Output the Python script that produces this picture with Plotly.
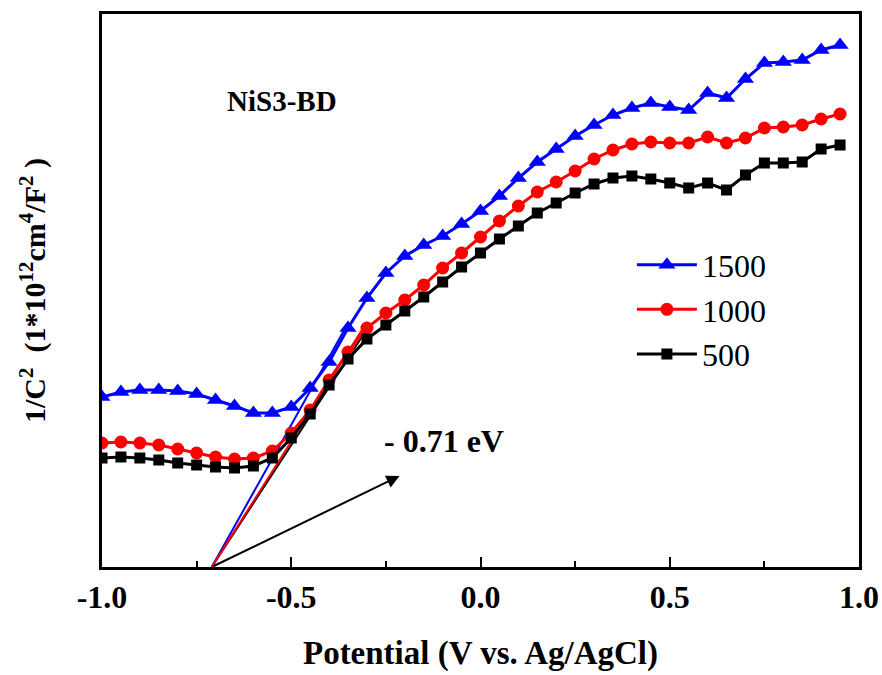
import plotly.graph_objects as go

# ---- data (arbitrary 1/C^2 units) ----
potential = [round(-1.0 + 0.05 * i, 2) for i in range(40)]

px_1500 = [397, 392, 390, 390, 391, 394, 400, 406, 413, 413,
           407, 388, 362, 328, 298, 273, 256, 245, 236, 224,
           211, 196, 178, 162, 149, 136, 125, 115, 108, 103,
           107, 110, 93, 98, 79, 63, 62, 60, 50, 45]
px_1000 = [443, 442, 443, 445, 449, 453, 457, 459, 458, 451,
           433, 410, 380, 352, 328, 313, 300, 285, 268, 253,
           237, 221, 206, 192, 182, 171, 159, 150, 144, 142,
           143, 143, 137, 143, 138, 128, 127, 125, 119, 114]
px_500 = [458, 457, 458, 460, 463, 465, 467, 468, 466, 458,
          438, 414, 385, 359, 339, 325, 311, 297, 282, 267,
          253, 239, 226, 213, 203, 193, 184, 178, 176, 179,
          183, 188, 183, 190, 175, 163, 163, 162, 149, 145]

# values, converted into arbitrary units
c_1500 = [(567 - v) / 100 for v in px_1500]
c_1000 = [(567 - v) / 100 for v in px_1000]
c_500 = [(567 - v) / 100 for v in px_500]

# linear (Mott-Schottky) fits: intercept and end point
fb_potential = -0.71
fit_end_x = {"1500": -0.36, "1000": -0.31, "500": -0.305}
fit_end_y = {"1500": 2.37, "1000": 2.39, "500": 2.35}

arrow_tip = (-0.214, 0.91)

series = [
    ("1500", c_1500, "#0000ff", "triangle-up", 15),
    ("1000", c_1000, "#ff0000", "circle", 13),
    ("500", c_500, "#000000", "square", 11),
]

FONT = "Liberation Serif"

fig = go.Figure()

# fit lines (drawn first, black under red)
for name, color in [("500", "#000000"), ("1500", "#0000ff"), ("1000", "#ff0000")]:
    fig.add_trace(go.Scatter(
        x=[fb_potential, fit_end_x[name]], y=[0, fit_end_y[name]],
        mode="lines", line=dict(color=color, width=2),
        showlegend=False, hoverinfo="skip"))

for name, ys, color, sym, size in series:
    fig.add_trace(go.Scatter(
        x=potential, y=ys, mode="lines+markers", name=name,
        line=dict(color=color, width=3),
        marker=dict(symbol=sym, size=size, color=color)))

fig.add_annotation(
    x=arrow_tip[0], y=arrow_tip[1], ax=fb_potential, ay=0,
    xref="x", yref="y", axref="x", ayref="y",
    text="", showarrow=True, arrowhead=2, arrowsize=1.3,
    arrowwidth=2, arrowcolor="black")

fig.add_annotation(
    x=-0.26, y=(567 - 441) / 100, xref="x", yref="y",
    text="<b>- 0.71 eV</b>", showarrow=False, xanchor="left",
    font=dict(family=FONT, size=32, color="black"))

fig.add_annotation(
    x=-0.675, y=(567 - 101) / 100, xref="x", yref="y",
    text="<b>NiS3-BD</b>", showarrow=False, xanchor="left",
    font=dict(family=FONT, size=29, color="black"))

fig.update_layout(
    width=882, height=675,
    margin=dict(l=102, r=23, t=14, b=108, autoexpand=False),
    paper_bgcolor="white", plot_bgcolor="white",
    font=dict(family=FONT, color="black"),
    legend=dict(
        x=0.7, y=0.596, xanchor="left", yanchor="top",
        bgcolor="rgba(0,0,0,0)", font=dict(family=FONT, size=32),
        traceorder="normal", tracegroupgap=0,
        itemwidth=60),
    xaxis=dict(
        range=[-1.0, 1.0], tickmode="array", automargin=False,
        tickvals=[-1.0, -0.5, 0.0, 0.5, 1.0],
        ticktext=["<b>-1.0</b>", "<b>-0.5</b>", "<b>0.0</b>", "<b>0.5</b>", "<b>1.0</b>"],
        ticks="inside", ticklen=10, tickwidth=2, tickcolor="black",
        minor=dict(ticks="inside", ticklen=6, tickwidth=2, tickcolor="black", dtick=0.25),
        showline=True, linewidth=2.5, linecolor="black", mirror=True,
        showgrid=False, zeroline=False,
        tickfont=dict(family=FONT, size=32, color="black"),
        title=dict(text="<b>Potential (V vs. Ag/AgCl)</b>",
                   font=dict(family=FONT, size=33, color="black"), standoff=27)),
    yaxis=dict(
        range=[0, 5.53], showticklabels=False, ticks="", automargin=False,
        showline=True, linewidth=2.5, linecolor="black", mirror=True,
        showgrid=False, zeroline=False,
        title=dict(text="<b>1/C<sup>2</sup>  (1*10<sup>12</sup>cm<sup>4</sup>/F<sup>2</sup> )</b>",
                   font=dict(family=FONT, size=30, color="black"), standoff=45)),
)

fig.write_html("out.html")
